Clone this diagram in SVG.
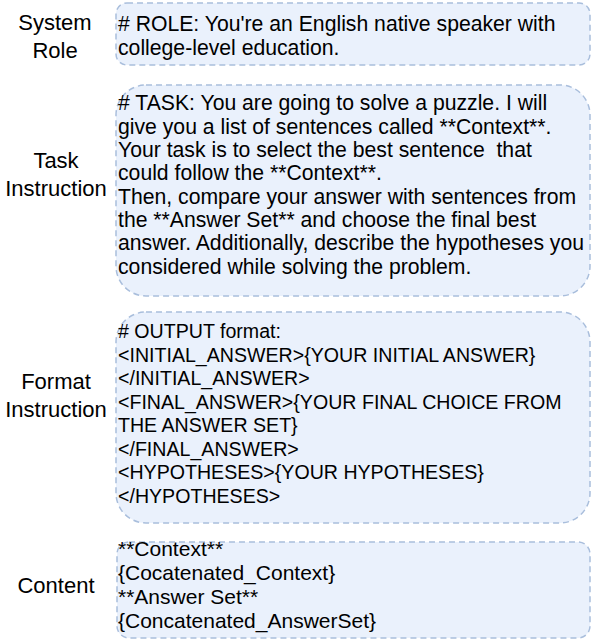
<svg xmlns="http://www.w3.org/2000/svg" width="592" height="640" viewBox="0 0 592 640">
<style>
.box{fill:#EAF1FC;stroke:#A9BEDC;stroke-width:1.5;stroke-dasharray:6 4}
.lab{font-family:"Liberation Sans",Arial,sans-serif;font-size:22px;fill:#000;text-anchor:middle}
.t{font-family:"Liberation Sans",Arial,sans-serif;font-size:21.2px;fill:#000;white-space:pre}
.f{font-family:"Liberation Sans",Arial,sans-serif;font-size:19.6px;fill:#000}
.c{font-family:"Liberation Sans",Arial,sans-serif;font-size:21px;fill:#000}
</style>
<rect width="592" height="640" fill="#fff"/>
<g id="system-role">
<text class="lab" x="55" y="30">System</text>
<text class="lab" x="55" y="58">Role</text>
<rect class="box" x="116" y="3" width="474" height="62" rx="11"/>
<text class="t" x="118" y="31"># ROLE: You're an English native speaker with</text>
<text class="t" x="118" y="55">college-level education.</text>
</g>
<g id="task-instruction">
<text class="lab" x="56" y="168">Task</text>
<text class="lab" x="56" y="196">Instruction</text>
<rect class="box" x="116" y="85" width="474" height="211" rx="30"/>
<text class="t" x="118" y="110"># TASK: You are going to solve a puzzle. I will</text>
<text class="t" x="118" y="134">give you a list of sentences called **Context**.</text>
<text class="t" x="118" y="157" xml:space="preserve">Your task is to select the best sentence  that</text>
<text class="t" x="118" y="180">could follow the **Context**.</text>
<text class="t" x="118" y="204">Then, compare your answer with sentences from</text>
<text class="t" x="118" y="227">the **Answer Set** and choose the final best</text>
<text class="t" x="118" y="250">answer. Additionally, describe the hypotheses you</text>
<text class="t" x="118" y="274">considered while solving the problem.</text>
</g>
<g id="format-instruction">
<text class="lab" x="56" y="389">Format</text>
<text class="lab" x="56" y="417">Instruction</text>
<rect class="box" x="116" y="312" width="474" height="211" rx="30"/>
<text class="f" x="118" y="338"># OUTPUT format:</text>
<text class="f" x="118" y="362">&lt;INITIAL_ANSWER&gt;{YOUR INITIAL ANSWER}</text>
<text class="f" x="118" y="385">&lt;/INITIAL_ANSWER&gt;</text>
<text class="f" x="118" y="409">&lt;FINAL_ANSWER&gt;{YOUR FINAL CHOICE FROM</text>
<text class="f" x="118" y="432">THE ANSWER SET}</text>
<text class="f" x="118" y="456">&lt;/FINAL_ANSWER&gt;</text>
<text class="f" x="118" y="479">&lt;HYPOTHESES&gt;{YOUR HYPOTHESES}</text>
<text class="f" x="118" y="503">&lt;/HYPOTHESES&gt;</text>
</g>
<g id="content">
<text class="lab" x="56" y="593">Content</text>
<rect class="box" x="117" y="542" width="473" height="96" rx="12"/>
<text class="c" x="118" y="556">**Context**</text>
<text class="c" x="118" y="580">{Cocatenated_Context}</text>
<text class="c" x="118" y="604">**Answer Set**</text>
<text class="c" x="118" y="628">{Concatenated_AnswerSet}</text>
</g>
<g id="connectors"></g>
</svg>
